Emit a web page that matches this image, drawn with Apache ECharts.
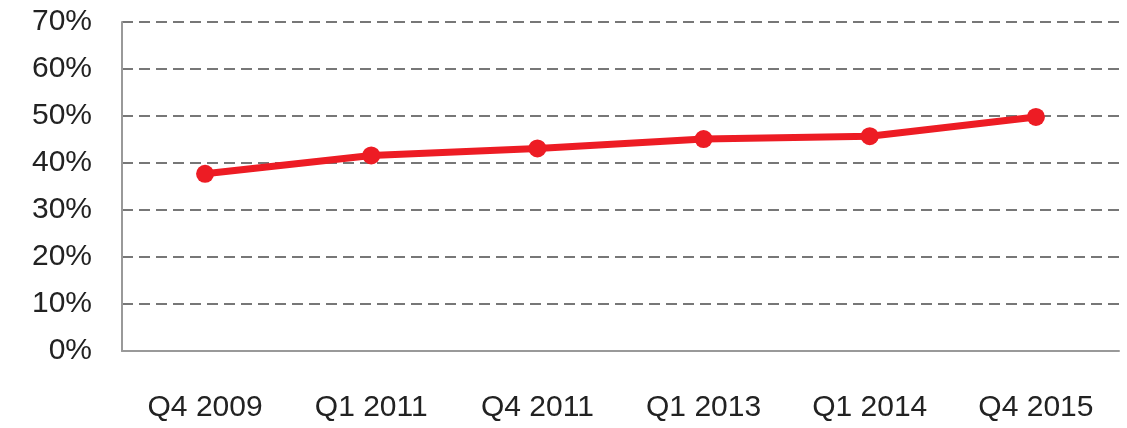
<!DOCTYPE html>
<html>
<head>
<meta charset="utf-8">
<script src="https://cdn.jsdelivr.net/npm/echarts@6/dist/echarts.min.js"></script>
<style>html,body{margin:0;padding:0;background:#fff;}#c{width:1127px;height:428px;}</style>
</head>
<body>
<div id="c"></div>
<script>
var categories = ['Q4 2009', 'Q1 2011', 'Q4 2011', 'Q1 2013', 'Q1 2014', 'Q4 2015'];
var values = [37.7, 41.6, 43.1, 45.1, 45.7, 49.8];
var yTicks = [0, 10, 20, 30, 40, 50, 60, 70];

var chart = echarts.init(document.getElementById('c'));
chart.setOption({
  backgroundColor: '#fff',
  animation: false,
  grid: { left: 122, right: 8, top: 22, bottom: 77 },
  xAxis: {
    type: 'category',
    data: categories,
    boundaryGap: true,
    axisLine: { lineStyle: { color: '#999', width: 2 } },
    axisTick: { show: false },
    axisLabel: { color: '#222', fontSize: 30, fontFamily: 'Liberation Sans', margin: 42 }
  },
  yAxis: {
    type: 'value',
    min: yTicks[0],
    max: yTicks[yTicks.length - 1],
    interval: 10,
    axisLine: { show: true, lineStyle: { color: '#999', width: 2 } },
    axisTick: { show: false },
    axisLabel: { color: '#222', fontSize: 30, fontFamily: 'Liberation Sans', margin: 30, formatter: '{value}%' },
    splitLine: { lineStyle: { color: '#777', width: 2, type: [11, 6] } }
  },
  series: [{
    type: 'line',
    data: values,
    symbol: 'circle',
    symbolSize: 18,
    lineStyle: { color: '#ED1C24', width: 7 },
    itemStyle: { color: '#ED1C24' }
  }]
});
</script>
</body>
</html>
